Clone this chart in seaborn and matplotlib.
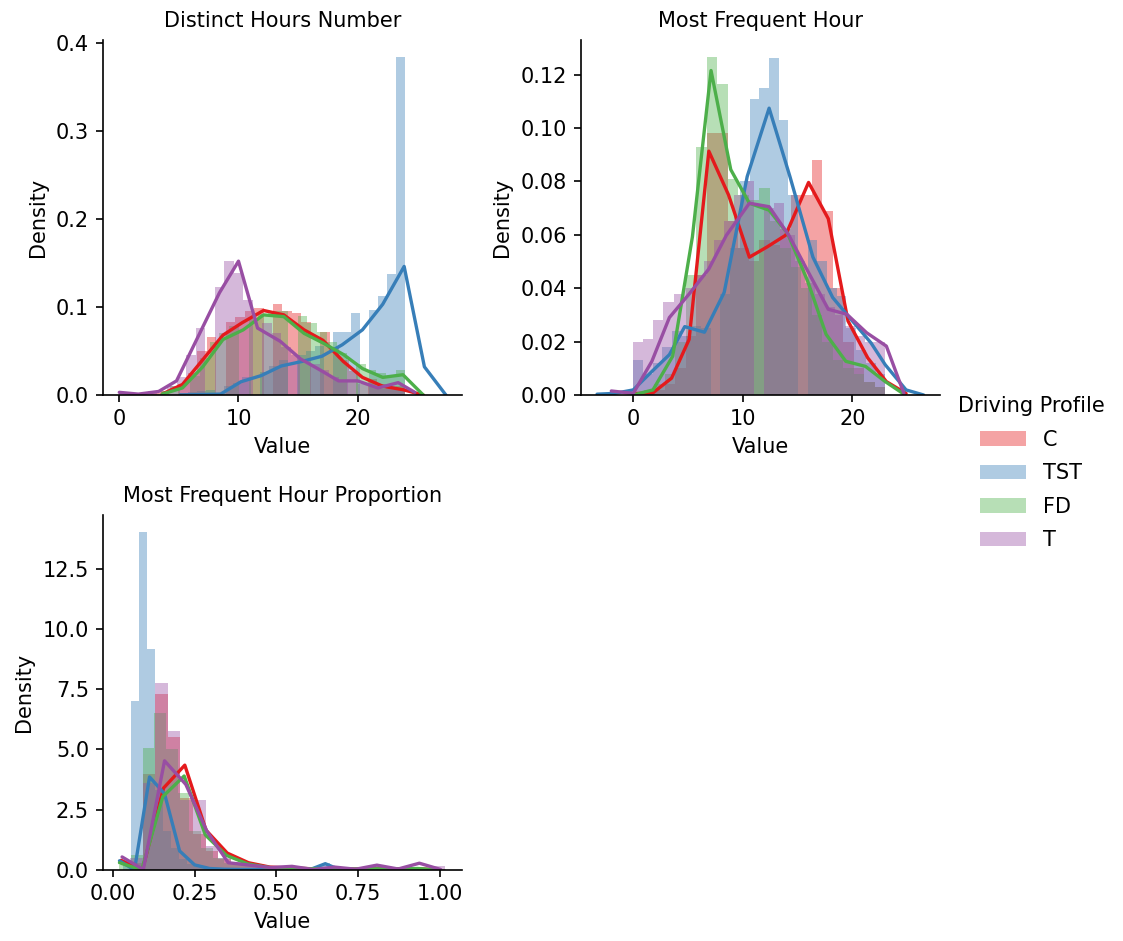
import numpy as np
import pandas as pd
import matplotlib
matplotlib.use("Agg")
import matplotlib.pyplot as plt
from matplotlib.patches import Patch
from matplotlib.ticker import MultipleLocator
import seaborn as sns

# ---------------- data ----------------
features = ["Distinct Hours Number", "Most Frequent Hour", "Most Frequent Hour Proportion"]
profiles = ["C", "TST", "FD", "T"]

# Panel 1: Distinct Hours Number (integer values -> bar heights, density)
hn_C_vals = [1, 2, 3, 4, 5, 6, 7, 8, 9, 10, 11, 12, 13, 14, 15, 16, 17, 18, 19, 20, 21, 22, 23, 24]
hn_C_h = [0.001, 0.0, 0.002, 0.005, 0.012, 0.025, 0.05, 0.066, 0.083, 0.089, 0.095, 0.099,
          0.103, 0.095, 0.093, 0.083, 0.072, 0.055, 0.04, 0.027, 0.018, 0.012, 0.009, 0.01]
hn_TST_vals = [5, 6, 7, 8, 9, 10, 11, 12, 13, 14, 15, 16, 17, 18, 19, 20, 21, 22, 23, 24]
hn_TST_h = [0.002, 0.003, 0.004, 0.006, 0.01, 0.014, 0.02, 0.026, 0.033, 0.04, 0.045, 0.05,
            0.056, 0.072, 0.072, 0.093, 0.096, 0.112, 0.137, 0.384]
hn_FD_vals = [1, 2, 3, 4, 5, 6, 7, 8, 9, 10, 11, 12, 13, 14, 15, 16, 17, 18, 19, 20, 21, 22, 23, 24]
hn_FD_h = [0.0, 0.0, 0.001, 0.004, 0.01, 0.022, 0.042, 0.06, 0.07, 0.078, 0.086, 0.092,
           0.095, 0.095, 0.09, 0.082, 0.072, 0.06, 0.048, 0.035, 0.028, 0.025, 0.022, 0.028]
hn_T_vals = [0, 1, 2, 3, 4, 5, 6, 7, 8, 9, 10, 11, 12, 13, 14, 15, 16, 17, 18, 19, 20, 21, 22, 23, 24]
hn_T_h = [0.003, 0.002, 0.001, 0.004, 0.01, 0.02, 0.045, 0.076, 0.123, 0.152, 0.139, 0.108,
          0.082, 0.07, 0.055, 0.045, 0.035, 0.028, 0.02, 0.016, 0.013, 0.01, 0.007, 0.01, 0.008]

# Panel 1 density curves
hn_C_lx = [3.6, 5.3, 7.0, 8.7, 10.3, 12.1, 13.8, 15.5, 17.1, 18.8, 20.4, 22.1, 23.8, 25.5]
hn_C_ly = [0.001, 0.012, 0.04, 0.068, 0.082, 0.096, 0.091, 0.074, 0.062, 0.038, 0.02, 0.01, 0.006, 0.0]
hn_TST_lx = [5.1, 6.8, 8.5, 10.2, 11.9, 13.6, 15.3, 17.0, 18.7, 20.4, 22.1, 23.9, 25.6, 27.4]
hn_TST_ly = [0.0, 0.0005, 0.001, 0.015, 0.022, 0.033, 0.038, 0.044, 0.057, 0.074, 0.103, 0.146, 0.032, 0.0]
hn_FD_lx = [3.6, 5.3, 7.0, 8.7, 10.4, 12.1, 13.8, 15.5, 17.1, 18.8, 20.4, 22.1, 23.8, 25.5]
hn_FD_ly = [0.001, 0.008, 0.032, 0.063, 0.074, 0.091, 0.089, 0.07, 0.059, 0.046, 0.03, 0.02, 0.023, 0.0]
hn_T_lx = [0.0, 1.6, 3.3, 4.8, 6.6, 8.4, 10.0, 11.6, 13.5, 15.2, 16.9, 18.4, 20.0, 21.7, 23.4, 24.8]
hn_T_ly = [0.003, 0.001, 0.004, 0.016, 0.066, 0.116, 0.152, 0.076, 0.061, 0.041, 0.028, 0.016,
           0.016, 0.008, 0.014, 0.003]

# Panel 2: Most Frequent Hour (hours 0..23)
mf_vals = [0, 1, 2, 3, 4, 5, 6, 7, 8, 9, 10, 11, 12, 13, 14, 15, 16, 17, 18, 19, 20, 21, 22, 23]
mf_C_h = [0.0, 0.001, 0.002, 0.004, 0.01, 0.022, 0.045, 0.098, 0.098, 0.065, 0.055, 0.05,
          0.058, 0.056, 0.062, 0.075, 0.075, 0.088, 0.069, 0.04, 0.02, 0.01, 0.005, 0.003]
mf_TST_h = [0.013, 0.008, 0.012, 0.018, 0.024, 0.022, 0.026, 0.025, 0.038, 0.055, 0.08, 0.111,
            0.115, 0.126, 0.103, 0.075, 0.058, 0.05, 0.04, 0.037, 0.025, 0.017, 0.012, 0.008]
mf_FD_h = [0.001, 0.002, 0.004, 0.008, 0.02, 0.045, 0.093, 0.1266, 0.1165, 0.081, 0.075, 0.073,
           0.0775, 0.065, 0.055, 0.048, 0.04, 0.03, 0.02, 0.013, 0.01, 0.008, 0.005, 0.003]
mf_T_h = [0.02, 0.021, 0.028, 0.035, 0.038, 0.04, 0.045, 0.05, 0.058, 0.065, 0.075, 0.08,
          0.07, 0.072, 0.06, 0.05, 0.042, 0.038, 0.033, 0.03, 0.026, 0.022, 0.02, 0.02]

mf_C_lx = [0.0, 1.8, 3.5, 5.1, 6.9, 8.7, 10.6, 12.2, 13.9, 16.0, 17.8, 19.6, 21.4, 23.1, 24.9]
mf_C_ly = [0.0005, 0.0008, 0.0063, 0.0208, 0.0913, 0.0749, 0.0516, 0.0554, 0.0598, 0.0796,
           0.066, 0.0277, 0.0139, 0.005, 0.0006]
mf_TST_lx = [-3.3, -1.7, 0.0, 1.7, 3.3, 4.7, 6.5, 8.3, 10.4, 12.4, 14.3, 16.4, 18.2, 20.0,
             21.7, 23.0, 24.9, 26.5]
mf_TST_ly = [0.0003, 0.0006, 0.0019, 0.0088, 0.0151, 0.0256, 0.0235, 0.0384, 0.0818, 0.1074,
             0.0818, 0.0516, 0.0365, 0.0277, 0.0195, 0.0113, 0.0019, 0.0]
mf_FD_lx = [0.0, 1.8, 3.6, 5.4, 7.1, 8.9, 10.6, 12.4, 14.1, 15.9, 17.6, 19.4, 21.2, 23.0, 24.6]
mf_FD_ly = [0.0, 0.0019, 0.0145, 0.0592, 0.1215, 0.0844, 0.0718, 0.0692, 0.0604, 0.0428,
            0.0227, 0.0126, 0.0107, 0.005, 0.0006]
mf_T_lx = [-2.0, 0.0, 1.7, 3.3, 5.1, 6.9, 8.5, 10.6, 12.4, 14.2, 15.9, 17.8, 19.5, 21.3, 23.1, 24.7]
mf_T_ly = [0.0015, 0.0006, 0.0126, 0.029, 0.0378, 0.0472, 0.0598, 0.0718, 0.0705, 0.0598,
           0.0466, 0.0321, 0.0302, 0.0233, 0.0183, 0.0006]

# Panel 3: Most Frequent Hour Proportion (bar heights per bin)
mp_C_h = [0.3, 4.0, 7.3, 5.5, 3.0, 1.5, 0.8, 0.45, 0.3, 0.2, 0.15, 0.1, 0.1, 0.08, 0.06,
          0.06, 0.05, 0.05, 0.05, 0.04, 0.04, 0.05, 0.04, 0.03, 0.05]
mp_TST_h = [0.35, 7.0, 14.03, 9.19, 3.3, 1.6, 0.9, 0.45, 0.25, 0.12, 0.08, 0.05, 0.04, 0.03,
            0.02, 0.02, 0.02, 0.02, 0.02, 0.02, 0.02, 0.02, 0.02, 0.02, 0.05, 0.3]
mp_FD_h = [0.2, 0.6, 5.05, 6.5, 5.0, 3.2, 1.6, 0.9, 0.5, 0.3, 0.2, 0.15, 0.1, 0.08, 0.06,
           0.05, 0.05, 0.04, 0.04, 0.03, 0.03, 0.03, 0.03, 0.04, 0.03, 0.03, 0.03, 0.05]
mp_T_h = [0.5, 3.6, 7.75, 5.75, 2.9, 2.9, 1.0, 0.5, 0.35, 0.25, 0.15, 0.12, 0.1, 0.1, 0.08,
          0.08, 0.08, 0.06, 0.08, 0.1, 0.06, 0.08, 0.1, 0.06, 0.15]

mp_C_lx = [0.025, 0.09, 0.155, 0.22, 0.285, 0.35, 0.415, 0.48, 0.545, 0.61, 0.675, 0.74,
           0.805, 0.87, 0.935, 1.0]
mp_C_ly = [0.4, 0.0, 3.4, 4.35, 1.65, 0.7, 0.3, 0.12, 0.08, 0.05, 0.05, 0.04, 0.06, 0.05, 0.05, 0.0]
mp_TST_lx = [0.02, 0.066, 0.112, 0.158, 0.204, 0.25, 0.296, 0.342, 0.388, 0.434, 0.48, 0.526,
             0.572, 0.604, 0.65, 0.696]
mp_TST_ly = [0.38, 0.0, 3.86, 3.16, 0.79, 0.21, 0.06, 0.03, 0.02, 0.02, 0.02, 0.02, 0.02,
             0.02, 0.26, 0.0]
mp_FD_lx = [0.02, 0.088, 0.153, 0.218, 0.283, 0.348, 0.413, 0.478, 0.543, 0.608, 0.673, 0.738,
            0.803, 0.868, 0.933, 0.998]
mp_FD_ly = [0.3, 0.0, 3.05, 3.9, 1.45, 0.6, 0.25, 0.1, 0.07, 0.05, 0.05, 0.04, 0.05, 0.04, 0.06, 0.0]
mp_T_lx = [0.028, 0.093, 0.158, 0.223, 0.288, 0.353, 0.418, 0.483, 0.548, 0.613, 0.678, 0.743,
           0.808, 0.873, 0.938, 1.003]
mp_T_ly = [0.54, 0.02, 4.53, 3.55, 1.6, 0.3, 0.2, 0.1, 0.15, 0.02, 0.12, 0.03, 0.2, 0.04, 0.28, 0.02]

# ---------------- configuration (binning / style) ----------------
colors = {"C": "#e41a1c", "TST": "#377eb8", "FD": "#4daf4a", "T": "#984ea3"}
int_bins = {
    features[0]: {"C": 29, "TST": 25, "FD": 28, "T": 30},
    features[1]: {"C": 24, "TST": 26, "FD": 24, "T": 25},
}
# proportion panel: (first edge, bin width)
prop_bins = {"C": (0.052, 0.0386), "TST": (0.032, 0.0243), "FD": (0.0195, 0.0357), "T": (0.052, 0.0386)}

bars = {
    features[0]: {"C": (hn_C_vals, hn_C_h), "TST": (hn_TST_vals, hn_TST_h),
                  "FD": (hn_FD_vals, hn_FD_h), "T": (hn_T_vals, hn_T_h)},
    features[1]: {"C": (mf_vals, mf_C_h), "TST": (mf_vals, mf_TST_h),
                  "FD": (mf_vals, mf_FD_h), "T": (mf_vals, mf_T_h)},
    features[2]: {"C": mp_C_h, "TST": mp_TST_h, "FD": mp_FD_h, "T": mp_T_h},
}
lines = {
    features[0]: {"C": (hn_C_lx, hn_C_ly), "TST": (hn_TST_lx, hn_TST_ly),
                  "FD": (hn_FD_lx, hn_FD_ly), "T": (hn_T_lx, hn_T_ly)},
    features[1]: {"C": (mf_C_lx, mf_C_ly), "TST": (mf_TST_lx, mf_TST_ly),
                  "FD": (mf_FD_lx, mf_FD_ly), "T": (mf_T_lx, mf_T_ly)},
    features[2]: {"C": (mp_C_lx, mp_C_ly), "TST": (mp_TST_lx, mp_TST_ly),
                  "FD": (mp_FD_lx, mp_FD_ly), "T": (mp_T_lx, mp_T_ly)},
}

# ---------------- style ----------------
sns.set_style("ticks")
FS = 15
plt.rcParams.update({
    "font.family": ["DejaVu Sans"],
    "font.size": FS,
    "axes.edgecolor": "black",
    "axes.labelcolor": "black",
    "text.color": "black",
    "xtick.color": "black",
    "ytick.color": "black",
    "axes.linewidth": 1.2,
    "xtick.major.width": 1.2,
    "ytick.major.width": 1.2,
    "xtick.major.size": 5,
    "ytick.major.size": 5,
    "xtick.major.pad": 5,
    "ytick.major.pad": 5,
    "axes.labelpad": 6,
    "axes.titlepad": 9,
})

facet_df = pd.DataFrame({"Feature": features})
g = sns.FacetGrid(facet_df, col="Feature", col_wrap=2, col_order=features,
                  sharex=False, sharey=False, height=3.55, aspect=1.0)

for feat, ax in g.axes_dict.items():
    for prof in profiles:
        col = colors[prof]
        if feat in int_bins:
            vals, h = bars[feat][prof]
            sns.histplot(x=vals, weights=h, bins=int_bins[feat][prof],
                         binrange=(min(vals), max(vals)), stat="count",
                         color=col, alpha=0.4, linewidth=0, ax=ax)
        else:
            h = bars[feat][prof]
            lo, w = prop_bins[prof]
            n = len(h)
            mids = lo + w * (np.arange(n) + 0.5)
            sns.histplot(x=mids, weights=h, bins=n, binrange=(lo, lo + n * w),
                         stat="count", color=col, alpha=0.4, linewidth=0, ax=ax)
        lx, ly = lines[feat][prof]
        sns.lineplot(x=lx, y=ly, color=col, linewidth=2.4, sort=False, ax=ax)
    ax.set_title(feat, fontsize=FS)
    ax.set_xlabel("Value", fontsize=FS)
    ax.set_ylabel("Density", fontsize=FS)
    ax.tick_params(labelsize=FS)
    ax.margins(x=0.05)

ax1 = g.axes_dict[features[0]]
ax1.set_yticks([0.0, 0.1, 0.2, 0.3, 0.4])
ax3 = g.axes_dict[features[2]]
ax3.set_xticks([0.0, 0.25, 0.5, 0.75, 1.0])
ax3.yaxis.set_major_locator(MultipleLocator(2.5))

fig = g.figure
fig.set_size_inches(11.23, 9.41)
fig.subplots_adjust(left=0.0917, right=0.837, top=0.9575, bottom=0.0755,
                    wspace=0.33, hspace=0.338)

handles = [Patch(facecolor=colors[p], alpha=0.4, edgecolor="none") for p in profiles]
fig.legend(handles, profiles, title="Driving Profile", loc="center left",
           bbox_to_anchor=(0.836, 0.497), frameon=False, fontsize=FS,
           title_fontsize=FS, handlelength=2.2, labelspacing=0.65)

fig.savefig("out.png", dpi=100)
